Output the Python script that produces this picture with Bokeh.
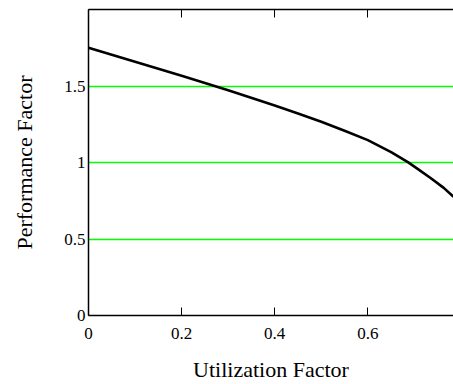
from bokeh.plotting import figure
from bokeh.models import Range1d, FixedTicker, LinearAxis
from bokeh.embed import file_html
from bokeh.resources import INLINE

# data
utilization = [0.0, 0.1, 0.2, 0.257, 0.3, 0.369, 0.4, 0.45, 0.5, 0.55, 0.6, 0.65,
               0.686, 0.71, 0.734, 0.763, 0.784]
performance = [1.75, 1.659, 1.567, 1.513, 1.472, 1.403, 1.372, 1.320, 1.266, 1.208, 1.146, 1.068,
               1.002, 0.952, 0.900, 0.834, 0.776]
x_ticks = [0, 0.2, 0.4, 0.6]
x_tick_labels = ["0", "0.2", "0.4", "0.6"]
y_ticks = [0, 0.5, 1, 1.5]
y_tick_labels = ["0", "0.5", "1", "1.5"]
ref_levels = [0.5, 1.0, 1.5]

FONT = "Liberation Serif"

p = figure(width=453, height=384, output_backend="svg", toolbar_location=None,
           x_range=Range1d(0, 0.784), y_range=Range1d(0, 2.0),
           min_border_left=88, min_border_right=0, min_border_top=9, min_border_bottom=69)
p.outline_line_color = None
p.background_fill_color = "white"
p.border_fill_color = "white"

# grids
p.xgrid.visible = False
p.ygrid.ticker = FixedTicker(ticks=ref_levels)
p.ygrid.grid_line_color = "#00ff00"
p.ygrid.grid_line_width = 1.5

# curve
p.line(utilization, performance, line_color="black", line_width=2.6, line_join="round")

# bottom axis
xa = p.xaxis[0]
xa.ticker = FixedTicker(ticks=x_ticks)
xa.major_label_overrides = {t: l for t, l in zip(x_ticks, x_tick_labels)}
xa.axis_label = "Utilization Factor"
xa.minor_tick_line_color = None
xa.major_tick_in = 8
xa.major_tick_out = 0
xa.major_label_standoff = 12
xa.axis_label_standoff = 15
xa.axis_line_color = "black"
xa.axis_line_width = 1.5
xa.major_tick_line_width = 1
xa.major_label_text_font = FONT
xa.major_label_text_font_size = "17px"
xa.axis_label_text_font = FONT
xa.axis_label_text_font_size = "22px"
xa.axis_label_text_font_style = "normal"
xa.major_label_text_color = "black"
xa.axis_label_text_color = "black"

# left axis
ya = p.yaxis[0]
ya.ticker = FixedTicker(ticks=y_ticks)
ya.major_label_overrides = {t: l for t, l in zip(y_ticks, y_tick_labels)}
ya.axis_label = "Performance Factor"
ya.minor_tick_line_color = None
ya.major_tick_in = 0
ya.major_tick_out = 0
ya.major_label_standoff = 3
ya.axis_label_standoff = 24
ya.axis_line_color = "black"
ya.axis_line_width = 1.5
ya.major_label_text_font = FONT
ya.major_label_text_font_size = "17px"
ya.axis_label_text_font = FONT
ya.axis_label_text_font_size = "22px"
ya.axis_label_text_font_style = "normal"
ya.major_label_text_color = "black"
ya.axis_label_text_color = "black"

# top axis (ticks only, no labels)
top = LinearAxis(ticker=FixedTicker(ticks=x_ticks))
top.major_label_overrides = {t: "" for t in x_ticks}
top.major_label_text_font_size = "1px"
top.major_label_standoff = 0
top.major_tick_in = 8
top.major_tick_out = 0
top.minor_tick_line_color = None
top.axis_line_color = "black"
top.axis_line_width = 1.5
p.add_layout(top, "above")

open("out.html", "w").write(file_html(p, INLINE))
